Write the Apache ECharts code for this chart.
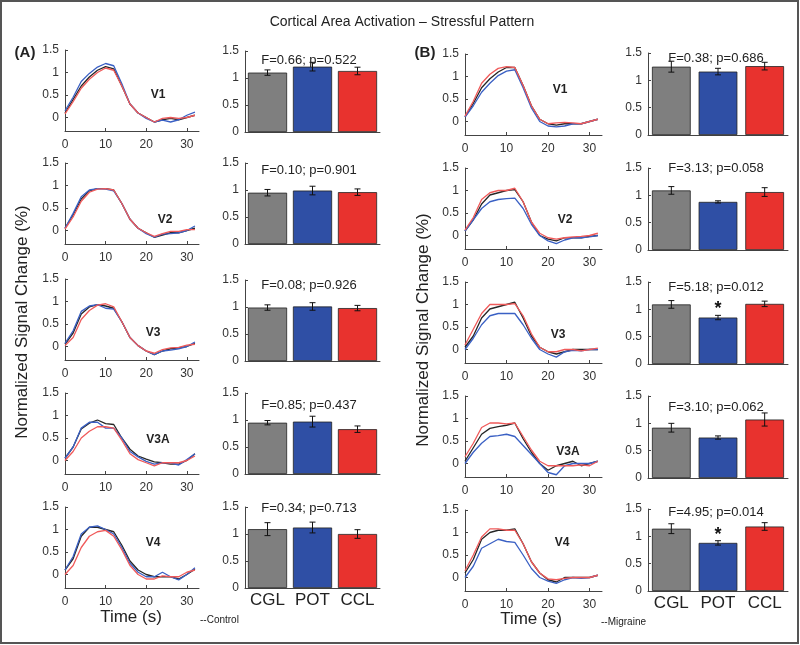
<!DOCTYPE html>
<html><head><meta charset="utf-8">
<script src="https://cdn.jsdelivr.net/npm/echarts@6/dist/echarts.min.js"></script>
<style>html,body{margin:0;padding:0;background:#fff}#c{width:800px;height:645px}</style>
</head><body><div id="c"></div>
<script>
// ---------- DATA ----------
const times = [0,2,4,6,8,10,12,14,16,18,20,22,24,26,28,30,32];
const regions = ['V1','V2','V3','V3A','V4'];
const groups = ['CGL','POT','CCL'];
const yTicks = [0,0.5,1,1.5];
const xTicks = [0,10,20,30];

// (A) Control time courses
const ctrlCGL = [
  [0.10,0.40,0.70,0.90,1.05,1.13,1.08,0.70,0.30,0.10,0.00,-0.10,-0.05,-0.02,-0.05,0.00,0.05],
  [0.05,0.35,0.70,0.88,0.93,0.93,0.90,0.60,0.25,0.05,-0.05,-0.15,-0.10,-0.05,-0.05,0.00,0.05],
  [0.05,0.30,0.72,0.88,0.93,0.90,0.85,0.55,0.20,0.02,-0.10,-0.18,-0.10,-0.05,-0.03,0.00,0.07],
  [0.05,0.30,0.70,0.83,0.90,0.82,0.80,0.50,0.25,0.10,0.03,-0.03,-0.05,-0.08,-0.08,0.00,0.15],
  [0.10,0.35,0.85,1.05,1.05,1.00,0.95,0.65,0.30,0.10,0.00,-0.05,-0.05,-0.05,-0.10,0.00,0.12]
];
const ctrlPOT = [
  [0.15,0.45,0.80,0.98,1.12,1.20,1.15,0.75,0.30,0.10,-0.02,-0.10,-0.06,-0.10,-0.05,0.05,0.12],
  [0.05,0.38,0.75,0.90,0.93,0.92,0.88,0.60,0.25,0.05,-0.07,-0.15,-0.08,-0.07,-0.05,0.00,0.10],
  [0.07,0.35,0.78,0.90,0.93,0.85,0.83,0.55,0.20,0.02,-0.10,-0.18,-0.10,-0.08,-0.05,0.00,0.10],
  [0.05,0.30,0.72,0.85,0.85,0.72,0.72,0.50,0.20,0.08,-0.02,-0.08,-0.05,-0.05,-0.10,0.02,0.15],
  [0.10,0.40,0.90,1.05,1.08,1.00,0.90,0.60,0.25,0.05,-0.05,-0.05,0.05,-0.05,-0.12,0.00,0.15]
];
const ctrlCCL = [
  [0.08,0.35,0.65,0.85,1.00,1.10,1.05,0.70,0.30,0.10,0.00,-0.10,-0.02,0.00,-0.02,0.00,0.05],
  [0.03,0.30,0.65,0.85,0.92,0.93,0.90,0.60,0.25,0.05,-0.05,-0.13,-0.07,-0.02,-0.02,0.02,0.02],
  [0.02,0.20,0.60,0.80,0.92,0.95,0.88,0.55,0.20,0.02,-0.10,-0.15,-0.07,-0.03,-0.02,0.03,0.05],
  [0.00,0.20,0.50,0.65,0.75,0.75,0.72,0.45,0.15,0.02,-0.05,-0.12,-0.05,-0.05,-0.05,0.00,0.10],
  [0.00,0.20,0.60,0.85,0.95,0.98,0.85,0.55,0.20,0.00,-0.10,-0.10,-0.03,-0.05,-0.05,0.05,0.10]
];
// (B) Migraine time courses
const migCGL = [
  [0.10,0.40,0.75,0.95,1.10,1.20,1.20,0.80,0.35,0.05,-0.05,-0.08,-0.05,-0.05,-0.05,0.00,0.05],
  [0.10,0.35,0.70,0.90,0.95,1.00,1.02,0.75,0.30,0.00,-0.08,-0.12,-0.05,-0.05,-0.05,-0.02,0.00],
  [0.05,0.30,0.70,0.90,0.95,1.00,1.05,0.70,0.30,0.05,-0.05,-0.10,-0.05,0.00,0.00,0.00,0.00],
  [0.05,0.35,0.65,0.78,0.82,0.85,0.90,0.55,0.25,0.00,-0.15,-0.05,0.00,0.05,-0.05,0.00,0.05],
  [0.10,0.40,0.85,1.00,1.05,1.05,1.08,0.75,0.35,0.10,-0.05,-0.10,0.00,0.00,0.00,0.00,0.05]
];
const migPOT = [
  [0.10,0.35,0.65,0.85,1.02,1.12,1.15,0.75,0.30,0.00,-0.10,-0.12,-0.10,-0.05,-0.05,0.00,0.05],
  [0.10,0.35,0.60,0.75,0.80,0.82,0.83,0.60,0.25,0.00,-0.12,-0.18,-0.10,-0.05,-0.05,-0.03,0.00],
  [0.00,0.25,0.55,0.75,0.80,0.80,0.80,0.55,0.25,0.00,-0.10,-0.17,-0.05,-0.02,-0.03,0.00,0.00],
  [0.00,0.25,0.45,0.60,0.62,0.65,0.60,0.40,0.20,0.00,-0.20,-0.25,-0.05,0.00,0.00,0.00,0.05],
  [0.00,0.25,0.65,0.75,0.85,0.80,0.78,0.50,0.20,0.00,-0.08,-0.13,-0.05,0.00,-0.02,0.00,0.05]
];
const migCCL = [
  [0.12,0.45,0.85,1.05,1.18,1.22,1.20,0.80,0.35,0.05,-0.05,-0.03,-0.02,-0.03,-0.05,0.00,0.05],
  [0.12,0.40,0.80,0.95,1.00,1.00,1.05,0.75,0.30,0.05,-0.05,-0.08,-0.05,-0.03,-0.02,0.00,0.05],
  [0.10,0.45,0.80,1.00,1.00,1.00,1.02,0.75,0.35,0.05,-0.05,-0.05,0.00,0.00,-0.03,0.00,0.03],
  [0.15,0.45,0.80,0.90,0.90,0.88,0.90,0.60,0.30,0.05,-0.05,-0.05,-0.05,-0.05,-0.03,-0.05,0.05],
  [0.15,0.50,0.90,1.08,1.08,1.05,1.05,0.75,0.35,0.10,-0.03,-0.05,-0.02,0.00,0.00,0.00,0.05]
];

// Bar means and error bars (CGL, POT, CCL)
const ctrlMeans = [[1.10,1.21,1.13],[0.95,0.99,0.96],[0.99,1.01,0.98],[0.95,0.97,0.83],[1.09,1.12,1.00]];
const ctrlErr   = [[0.05,0.08,0.07],[0.06,0.08,0.06],[0.05,0.07,0.05],[0.04,0.10,0.06],[0.12,0.10,0.08]];
const migMeans  = [[1.25,1.16,1.26],[1.09,0.88,1.06],[1.09,0.85,1.10],[0.92,0.74,1.07],[1.14,0.88,1.18]];
const migErr    = [[0.10,0.06,0.07],[0.07,0.02,0.08],[0.07,0.04,0.05],[0.08,0.03,0.12],[0.09,0.04,0.07]];
const migSig    = [[0,0,0],[0,0,0],[0,1,0],[0,0,0],[0,1,0]];
const ctrlStats = ['F=0.66; p=0.522','F=0.10; p=0.901','F=0.08; p=0.926','F=0.85; p=0.437','F=0.34; p=0.713'];
const migStats  = ['F=0.38; p=0.686','F=3.13; p=0.058','F=5.18; p=0.012','F=3.10; p=0.062','F=4.95; p=0.014'];

// ---------- LAYOUT / STYLE ----------
const FONT = '"Liberation Sans", Arial, sans-serif';
const lineColors = ['#262626','#3a60c4','#f05a5a'];
const barColors = ['#7f7f7f','#2f4fa5','#e8322e'];
const AX = '#444';
const LAY = {
  A: {line:{left:65,width:134,tops:[50,163,279,393,507],h:81},
      bar:{left:245,width:135,tops:[51,163,280,393,507],h:81,gap:'13%'},
      statX:309, statY:[60,170,285,405,508],
      reg:[[158,95],[165,220],[153,333],[158,440],[153,543]]},
  B: {line:{left:465,width:137,tops:[54,168,282,396,510],h:81},
      bar:{left:648,width:140,tops:[53,168,282,396,509],h:82,gap:'17%'},
      statX:716, statY:[58,168,287,407,512],
      reg:[[560,90],[565,220],[558,335],[568,452],[562,543]]}
};

const grid = [], xAxis = [], yAxis = [], series = [], graphic = [];
function txt(x,y,text,size,opts){
  opts = opts||{};
  graphic.push({type:'text', x, y, rotation: opts.rot||0, z:100,
    style:{text, font:(opts.weight||'normal')+' '+size+'px '+FONT, fill:opts.fill||'#222',
      align:opts.align||'center', verticalAlign:'middle'}});
}

function buildPanel(key, lines, means, errs, sig, stats){
  const L = LAY[key];
  for (let r=0;r<5;r++){
    // line chart
    let gi = grid.length;
    grid.push({left:L.line.left, top:L.line.tops[r], width:L.line.width, height:L.line.h, containLabel:false});
    xAxis.push({type:'value', gridIndex:gi, min:0, max:33,
      axisLine:{show:true,onZero:false,lineStyle:{color:AX,width:1}},
      axisTick:{show:true,inside:true,length:3,customValues:xTicks,lineStyle:{color:AX}},
      axisLabel:{customValues:xTicks,fontSize:12,fontFamily:FONT,color:'#333',margin:8},
      splitLine:{show:false}});
    yAxis.push({type:'value', gridIndex:gi, min:-0.3, max:1.5,
      axisLine:{show:true,onZero:false,lineStyle:{color:AX,width:1}},
      axisTick:{show:true,inside:true,length:3,customValues:yTicks,lineStyle:{color:AX}},
      axisLabel:{customValues:yTicks,fontSize:12,fontFamily:FONT,color:'#333',margin:6},
      splitLine:{show:false}});
    lines.forEach((grp,k)=>{
      series.push({type:'line', xAxisIndex:gi, yAxisIndex:gi, symbol:'none', silent:true,
        lineStyle:{color:lineColors[k], width:1.3}, z:2+k,
        data: times.map((t,i)=>[t, grp[r][i]])});
    });
    txt(L.reg[r][0], L.reg[r][1], regions[r], 12, {weight:'bold'});

    // bar chart
    gi = grid.length;
    grid.push({left:L.bar.left, top:L.bar.tops[r], width:L.bar.width, height:L.bar.h, containLabel:false});
    xAxis.push({type:'category', gridIndex:gi, data:groups,
      axisLine:{show:true,lineStyle:{color:AX,width:1}},
      axisTick:{show:false},
      axisLabel:{show:r===4, interval:0, hideOverlap:false, fontSize:17, fontFamily:FONT, color:'#222', margin:4},
      splitLine:{show:false}});
    yAxis.push({type:'value', gridIndex:gi, min:0, max:1.5, interval:0.5,
      axisLine:{show:true,lineStyle:{color:AX,width:1}},
      axisTick:{show:true,inside:true,length:3,lineStyle:{color:AX}},
      axisLabel:{fontSize:12,fontFamily:FONT,color:'#333',margin:6},
      splitLine:{show:false}});
    series.push({type:'bar', xAxisIndex:gi, yAxisIndex:gi, barCategoryGap:L.bar.gap, silent:true,
      data: means[r].map((m,k)=>({value:m, itemStyle:{color:barColors[k], borderColor:'#222', borderWidth:0.8}}))});
    series.push({type:'custom', xAxisIndex:gi, yAxisIndex:gi, silent:true, z:10,
      data: means[r].map((m,k)=>[k, m, errs[r][k], sig ? sig[r][k] : 0]),
      encode:{x:0,y:1},
      renderItem:(params, api)=>{
        const x = api.value(0), m = api.value(1), e = api.value(2), s = api.value(3);
        const hi = api.coord([x, m+e]), lo = api.coord([x, m-e]);
        const w = 3;
        const st = {stroke:'#111', lineWidth:1};
        const ch = [
          {type:'line', shape:{x1:hi[0],y1:hi[1],x2:lo[0],y2:lo[1]}, style:st},
          {type:'line', shape:{x1:hi[0]-w,y1:hi[1],x2:hi[0]+w,y2:hi[1]}, style:st},
          {type:'line', shape:{x1:lo[0]-w,y1:lo[1],x2:lo[0]+w,y2:lo[1]}, style:st}
        ];
        if (s) ch.push({type:'text', x:hi[0], y:hi[1]-6,
          style:{text:'*', font:'bold 18px '+FONT, fill:'#111', align:'center', verticalAlign:'middle'}});
        return {type:'group', children:ch};
      }});
    txt(L.statX, L.statY[r], stats[r], 13);
  }
}
buildPanel('A', [ctrlCGL, ctrlPOT, ctrlCCL], ctrlMeans, ctrlErr, null, ctrlStats);
buildPanel('B', [migCGL, migPOT, migCCL], migMeans, migErr, migSig, migStats);

// frame and general text
graphic.push({type:'rect', shape:{x:1,y:1,width:797,height:642}, z:0,
  style:{fill:'none', stroke:'#555', lineWidth:2}});
txt(402, 22, 'Cortical Area Activation – Stressful Pattern', 14);
txt(25, 53, '(A)', 15, {weight:'bold'});
txt(425, 53, '(B)', 15, {weight:'bold'});
txt(22, 322, 'Normalized Signal Change (%)', 17, {rot:Math.PI/2});
txt(423, 330, 'Normalized Signal Change (%)', 17, {rot:Math.PI/2});
txt(131, 617, 'Time (s)', 17);
txt(531, 619, 'Time (s)', 17);
txt(200, 620, '--Control', 10, {align:'left'});
txt(601, 622, '--Migraine', 10, {align:'left'});

const chart = echarts.init(document.getElementById('c'), null, {renderer:'canvas'});
chart.setOption({backgroundColor:'#fff', animation:false, grid, xAxis, yAxis, series, graphic});
</script>
</body></html>
